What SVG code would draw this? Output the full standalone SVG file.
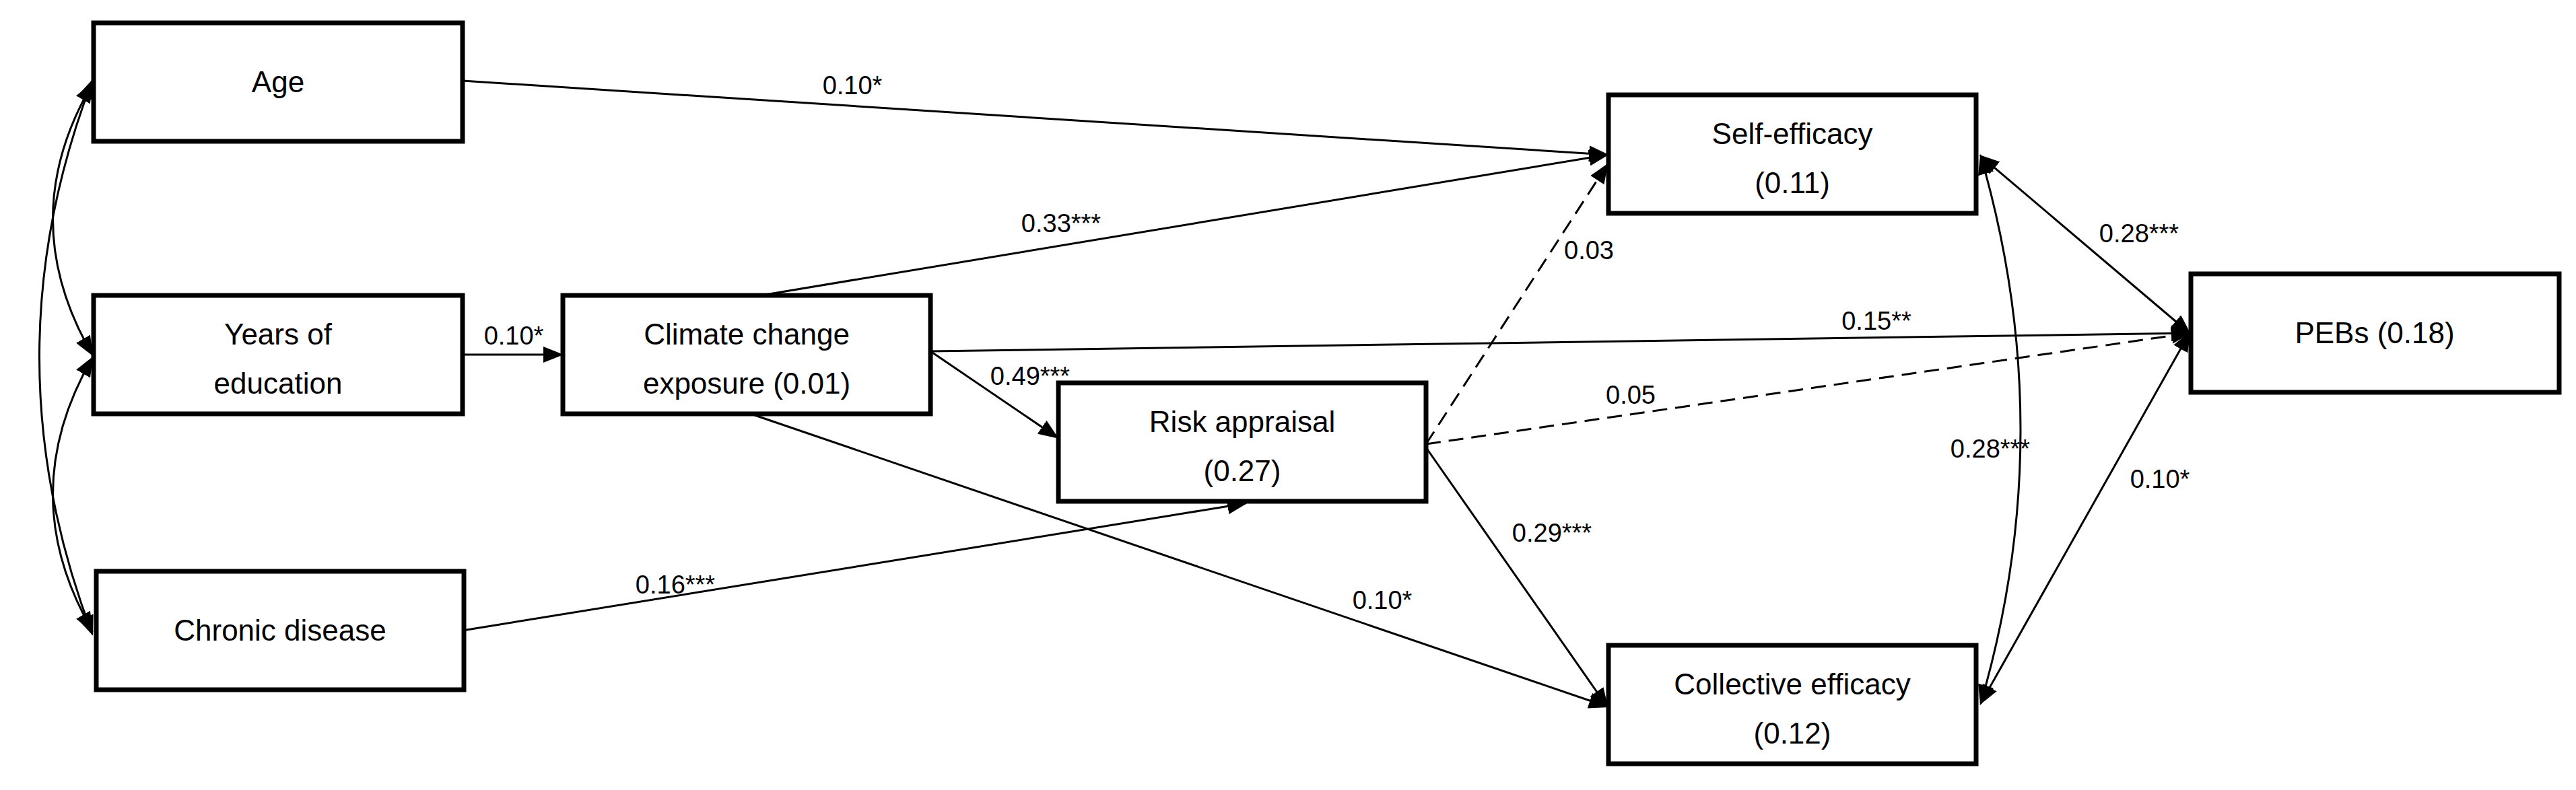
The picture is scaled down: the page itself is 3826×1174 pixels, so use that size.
<svg xmlns="http://www.w3.org/2000/svg" width="3826" height="1174" viewBox="0 0 3826 1174">
<style>
.box{fill:#fff;stroke:#000;stroke-width:7}
.t{font-family:"Liberation Sans",Arial,sans-serif;font-size:44px;text-anchor:middle;fill:#000}
.l{font-family:"Liberation Sans",Arial,sans-serif;font-size:38px;text-anchor:middle;fill:#000}
.e{fill:none;stroke:#000;stroke-width:3;marker-end:url(#a)}
.d{stroke-dasharray:22 12}
.b{marker-start:url(#s)}
</style>
<defs>
<marker id="a" markerWidth="10" markerHeight="8" refX="9" refY="4" orient="auto" markerUnits="strokeWidth"><path d="M0,0L10,4L0,8z"/></marker>
<marker id="s" markerWidth="10" markerHeight="8" refX="1" refY="4" orient="auto" markerUnits="strokeWidth"><path d="M10,0L0,4L10,8z"/></marker>
</defs>
<g id="connectors">
<path class="e" d="M687,120L2387,230"/>
<path class="e" d="M1130,439L2387,230"/>
<path class="e" d="M687,527L834,527"/>
<path class="e" d="M1382,522L3252,495"/>
<path class="e" d="M1382,522L1570,650"/>
<path class="e" d="M1115,615L2387,1050"/>
<path class="e" d="M687,937L1850,748"/>
<path class="e d" d="M2118,660L2387,245"/>
<path class="e d" d="M2118,660L3252,495"/>
<path class="e" d="M2118,665L2387,1050"/>
<path class="e b" d="M2942,232L3252,495"/>
<path class="e b" d="M3252,495L2942,1045"/>
<path class="e b" d="M2942,232Q3060,640 2942,1045"/>
<path class="e b" d="M137,125Q20,325 137,527"/>
<path class="e b" d="M137,532Q20,735 137,937"/>
<path class="e b" d="M137,120Q-20,530 137,942"/>
<text class="l" x="1266" y="140">0.10*</text>
<text class="l" x="1576" y="345">0.33***</text>
<text class="l" x="763" y="512">0.10*</text>
<text class="l" x="2787" y="490">0.15**</text>
<text class="l" x="1530" y="572">0.49***</text>
<text class="l" x="2053" y="905">0.10*</text>
<text class="l" x="1003" y="882">0.16***</text>
<text class="l" x="2360" y="385">0.03</text>
<text class="l" x="2422" y="600">0.05</text>
<text class="l" x="2305" y="805">0.29***</text>
<text class="l" x="3177" y="360">0.28***</text>
<text class="l" x="3208" y="725">0.10*</text>
<text class="l" x="2956" y="680">0.28***</text>
</g>
<g id="age"><rect class="box" x="139" y="34" width="548" height="176"/><text class="t" x="413" y="137">Age</text></g>
<g id="edu"><rect class="box" x="139" y="439" width="548" height="176"/><text class="t" x="413" y="512">Years of</text><text class="t" x="413" y="585">education</text></g>
<g id="chronic"><rect class="box" x="143" y="849" width="546" height="176"/><text class="t" x="416" y="952">Chronic disease</text></g>
<g id="climate"><rect class="box" x="836" y="439" width="546" height="176"/><text class="t" x="1109" y="512">Climate change</text><text class="t" x="1109" y="585">exposure (0.01)</text></g>
<g id="risk"><rect class="box" x="1572" y="569" width="546" height="176"/><text class="t" x="1845" y="642">Risk appraisal</text><text class="t" x="1845" y="715">(0.27)</text></g>
<g id="self"><rect class="box" x="2389" y="141" width="546" height="176"/><text class="t" x="2662" y="214">Self-efficacy</text><text class="t" x="2662" y="287">(0.11)</text></g>
<g id="collective"><rect class="box" x="2389" y="959" width="546" height="176"/><text class="t" x="2662" y="1032">Collective efficacy</text><text class="t" x="2662" y="1105">(0.12)</text></g>
<g id="pebs"><rect class="box" x="3254" y="407" width="547" height="176"/><text class="t" x="3527" y="510">PEBs (0.18)</text></g>
</svg>
